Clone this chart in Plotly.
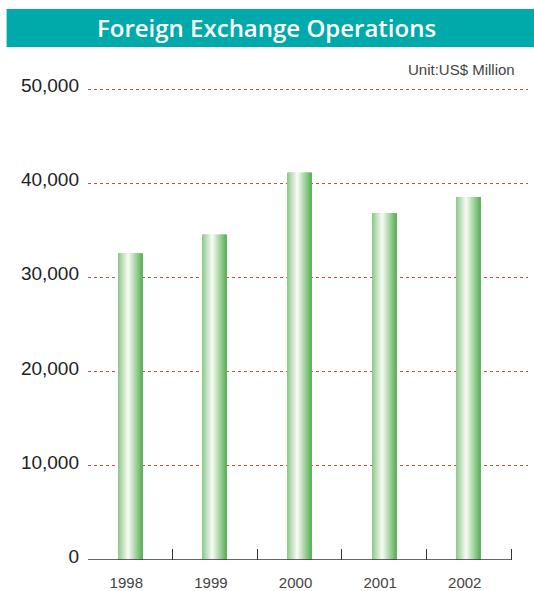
import plotly.graph_objects as go
import numpy as np

years = ["1998", "1999", "2000", "2001", "2002"]
operations = [32600, 34600, 41200, 36900, 38600]
y_ticks = [0, 10000, 20000, 30000, 40000, 50000]
y_tick_labels = ["0", "10,000", "20,000", "30,000", "40,000", "50,000"]

# cylinder-like shading: light green -> white highlight -> darker green
stops = [0.0, 0.42, 1.0]
stop_rgb = np.array([[140, 200, 135], [250, 252, 248], [92, 178, 88]])

bar_width = 0.285
n_strips = 24
strip = bar_width / n_strips

fig = go.Figure()

for i in range(n_strips):
    t = (i + 0.5) / n_strips
    rgb = [int(np.interp(t, stops, stop_rgb[:, c])) for c in range(3)]
    fig.add_trace(go.Bar(
        x=years, y=operations,
        width=strip * 1.05,
        offset=-bar_width / 2 + i * strip,
        marker=dict(color=f"rgb({rgb[0]},{rgb[1]},{rgb[2]})", line=dict(width=0)),
        showlegend=False, hoverinfo="skip" if i else "x+y",
    ))

fig.update_layout(
    width=534, height=591,
    margin=dict(l=88, r=6, t=85, b=31),
    paper_bgcolor="white", plot_bgcolor="white",
    barmode="overlay",
    font=dict(family="Liberation Sans, Arial, sans-serif", color="#222"),
    xaxis=dict(
        type="category", range=[-0.5, 4.7], automargin=False,
        tickson="boundaries", ticks="inside", ticklen=11, tickcolor="#333", tickwidth=1,
        showline=False, showgrid=False,
        tickfont=dict(family="Liberation Sans Narrow, Liberation Sans, sans-serif", size=15, color="#444"),
        ticklabelstandoff=12, ticklabelshift=-4,
    ),
    yaxis=dict(
        range=[0, 50500], tickmode="array", tickvals=y_ticks, ticktext=y_tick_labels,
        automargin=False,
        showgrid=True, gridcolor="#bb5a42", griddash="dot", gridwidth=1,
        zeroline=False, showline=False, ticks="",
        tickfont=dict(size=19, color="#222"), ticklabelstandoff=8, ticklabelshift=-4,
    ),
    shapes=[
        # title band
        dict(type="rect", xref="paper", yref="paper", x0=-0.185, x1=1.02, y0=1.08, y1=1.16,
             fillcolor="#00a9aa", line=dict(width=0), layer="below"),
        # baseline
        dict(type="line", xref="x", yref="y", x0=-0.5, x1=4.5, y0=0, y1=0,
             line=dict(color="#333", width=1.5)),
    ],
    annotations=[
        dict(text="Foreign Exchange Operations", xref="paper", yref="paper", x=0.406, y=1.12,
             showarrow=False, xanchor="center", yanchor="middle",
             font=dict(family="Open Sans, Noto Sans, sans-serif", size=24, weight=600, color="white")),
        dict(text="Unit:US$ Million", xref="paper", yref="paper", x=0.975, y=1.0316,
             showarrow=False, xanchor="right", yanchor="middle",
             font=dict(family="Liberation Sans Narrow, Liberation Sans, sans-serif", size=15, color="#444")),
    ],
)

fig.write_html("out.html", config={"displayModeBar": False},
               post_script="document.body.style.margin='0';")
